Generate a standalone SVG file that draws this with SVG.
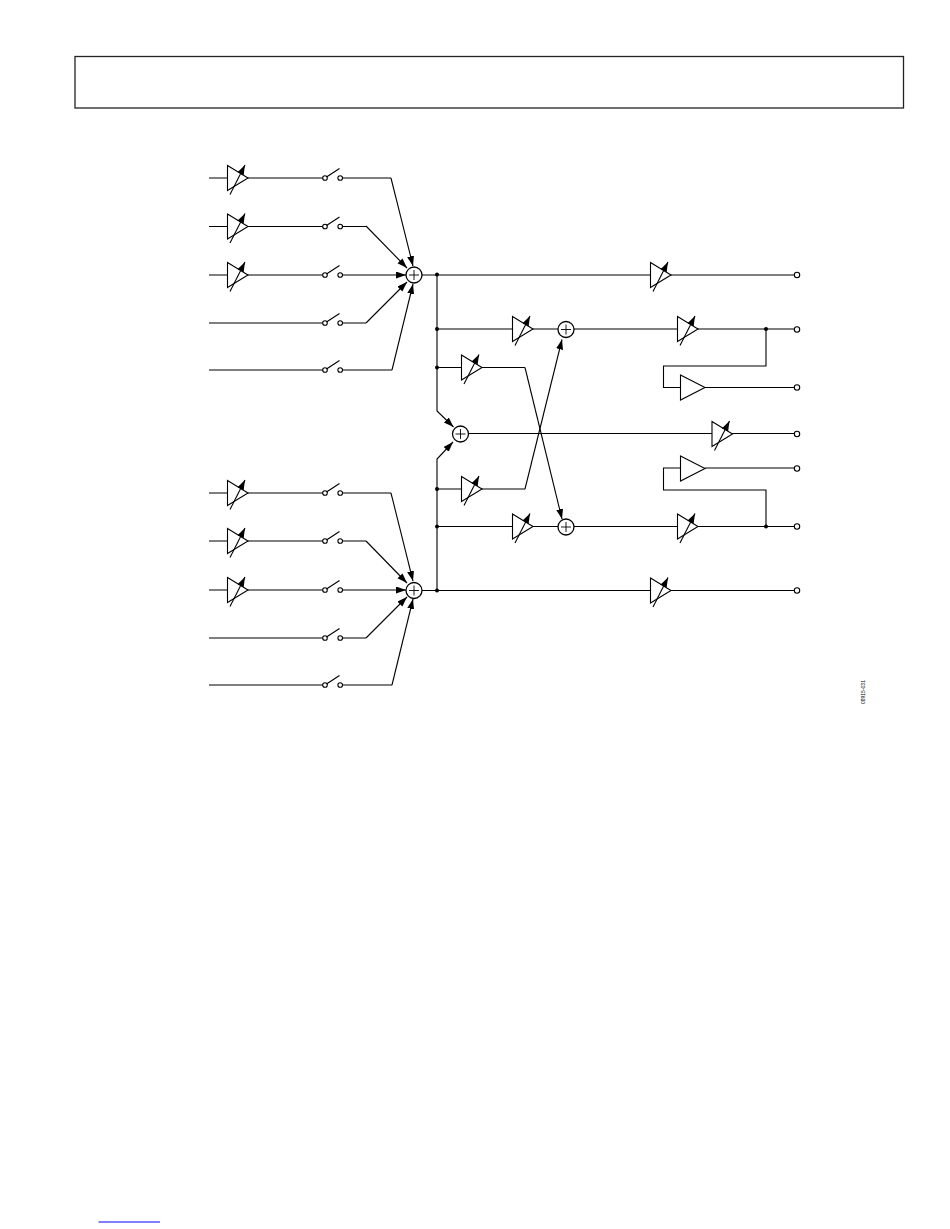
<svg xmlns="http://www.w3.org/2000/svg" width="950" height="1229" viewBox="0 0 950 1229">
<style>
.w{fill:none;stroke:#000;stroke-width:1.1}
.a{marker-end:url(#ah)}
.t{fill:#fff;stroke:#000;stroke-width:1.1}
.d{fill:#000}
.o{fill:#fff;stroke:#000;stroke-width:1.1}
.s{fill:#fff;stroke:#000;stroke-width:1.3}
.p{fill:none;stroke:#000;stroke-width:.9}
text{font-family:"Liberation Sans",Arial,sans-serif;font-size:5px;fill:#000}
</style>
<defs>
<marker id="ah" markerUnits="userSpaceOnUse" markerWidth="11" markerHeight="8" refX="10" refY="3.5" orient="auto"><path d="M0 0L10 3.5L0 7Z" fill="#000"/></marker>
<g id="amp"><path class="t" d="M0-12.5L20.5 0L0 12.5Z"/><path class="w a" d="M2.5 16.5L17.5-13"/></g>
<g id="buf"><path class="t" d="M0-12.5L24.5 0L0 12.5Z"/></g>
<g id="sw"><circle class="o" cx="325" cy="0" r="2.3"/><circle class="o" cx="340.2" cy="0" r="2.3"/><path class="w" d="M326.5-1L339.5-9.5"/></g>
<g id="sum"><circle class="s" r="8"/><path class="p" d="M-5 0H5M0-5V5"/></g>
</defs>
<rect id="header" x="75" y="56.5" width="828.5" height="51.5" fill="none" stroke="#222" stroke-width="1.3"/>
<g id="connectors">
<path class="w" d="M209 178H323M343 178H391"/><path class="w a" d="M391 178L413 266"/>
<path class="w" d="M209 226.500H323M343 226.500H366"/><path class="w a" d="M366 226L407 268"/>
<path class="w" d="M209 275H323"/><path class="w a" d="M343 275H406"/>
<path class="w" d="M209 323H323M343 323H366"/><path class="w a" d="M366 323L407 282"/>
<path class="w" d="M209 370H323M343 370H392"/><path class="w a" d="M392 370L413 284"/>
<path class="w" d="M209 493H323M343 493H391"/><path class="w a" d="M391 493L413 581"/>
<path class="w" d="M209 541H323M343 541H366"/><path class="w a" d="M366 541L407 583"/>
<path class="w" d="M209 590H323"/><path class="w a" d="M343 590H406"/>
<path class="w" d="M209 638H323M343 638H366"/><path class="w a" d="M366 638L407 597"/>
<path class="w" d="M209 685H323M343 685H392"/><path class="w a" d="M392 685L413 599"/>
<path class="w" d="M422 275H795"/>
<path class="w" d="M422 590.500H795"/>
<path class="w a" d="M437 274V411L453.500 427"/>
<path class="w a" d="M437 590V459L453 442"/>
<path class="w" d="M437 329H558M574 329H795"/>
<path class="w" d="M437 526.500H558M574 526.500H795"/>
<path class="w" d="M437 367.500H525"/><path class="w a" d="M525 367.500L562 519"/>
<path class="w" d="M437 489H525"/><path class="w a" d="M525 489L562 339.500"/>
<path class="w" d="M468.500 433.500H795"/>
<path class="w" d="M766 329V366H663.500V387.500H680M705 387.500H795"/>
<path class="w" d="M766 526.500V490H663.500V468H680M705 468H795"/>
<circle class="d" cx="437" cy="274.500" r="2"/><circle class="d" cx="437" cy="329" r="2"/><circle class="d" cx="437" cy="367.500" r="2"/><circle class="d" cx="437" cy="489" r="2"/><circle class="d" cx="437" cy="526.500" r="2"/><circle class="d" cx="437" cy="590.500" r="2"/><circle class="d" cx="766" cy="329" r="2"/><circle class="d" cx="766" cy="526.500" r="2"/>
</g>
<g id="amp1"><use href="#amp" x="227.500" y="178"/></g>
<g id="amp2"><use href="#amp" x="227.500" y="226.500"/></g>
<g id="amp3"><use href="#amp" x="227.500" y="275"/></g>
<g id="amp4"><use href="#amp" x="227.500" y="493"/></g>
<g id="amp5"><use href="#amp" x="227.500" y="541"/></g>
<g id="amp6"><use href="#amp" x="227.500" y="590"/></g>
<g id="amp7"><use href="#amp" x="650.500" y="275"/></g>
<g id="amp8"><use href="#amp" x="512.500" y="329"/></g>
<g id="amp9"><use href="#amp" x="677.500" y="329"/></g>
<g id="amp10"><use href="#amp" x="461.500" y="367.500"/></g>
<g id="amp11"><use href="#amp" x="712" y="434"/></g>
<g id="amp12"><use href="#amp" x="461.500" y="489"/></g>
<g id="amp13"><use href="#amp" x="512.500" y="526.500"/></g>
<g id="amp14"><use href="#amp" x="677.500" y="526.500"/></g>
<g id="amp15"><use href="#amp" x="650.500" y="590.500"/></g>
<g id="buf1"><use href="#buf" x="680.500" y="387.500"/></g>
<g id="buf2"><use href="#buf" x="680.500" y="468.500"/></g>
<g id="sw1"><use href="#sw" y="178"/></g>
<g id="sw2"><use href="#sw" y="226.500"/></g>
<g id="sw3"><use href="#sw" y="275"/></g>
<g id="sw4"><use href="#sw" y="323"/></g>
<g id="sw5"><use href="#sw" y="370"/></g>
<g id="sw6"><use href="#sw" y="493"/></g>
<g id="sw7"><use href="#sw" y="541"/></g>
<g id="sw8"><use href="#sw" y="590"/></g>
<g id="sw9"><use href="#sw" y="638"/></g>
<g id="sw10"><use href="#sw" y="685"/></g>
<g id="sum1"><use href="#sum" x="414" y="275"/></g>
<g id="sum2"><use href="#sum" x="414" y="590.500"/></g>
<g id="sum3"><use href="#sum" x="460.500" y="434"/></g>
<g id="sum4"><use href="#sum" x="566" y="329.500"/></g>
<g id="sum5"><use href="#sum" x="566" y="527"/></g>
<g id="out1"><circle class="o" cx="797" cy="275" r="2.700"/></g>
<g id="out2"><circle class="o" cx="797" cy="329.500" r="2.700"/></g>
<g id="out3"><circle class="o" cx="797" cy="387.500" r="2.700"/></g>
<g id="out4"><circle class="o" cx="797" cy="434" r="2.700"/></g>
<g id="out5"><circle class="o" cx="797" cy="468.500" r="2.700"/></g>
<g id="out6"><circle class="o" cx="797" cy="526.500" r="2.700"/></g>
<g id="out7"><circle class="o" cx="797" cy="590.500" r="2.700"/></g>
<text id="code" transform="translate(864.500 704) rotate(-90)">08915-031</text>
<path id="link" d="M98.500 1222H160" stroke="#00f" stroke-width="1" fill="none"/>
</svg>
